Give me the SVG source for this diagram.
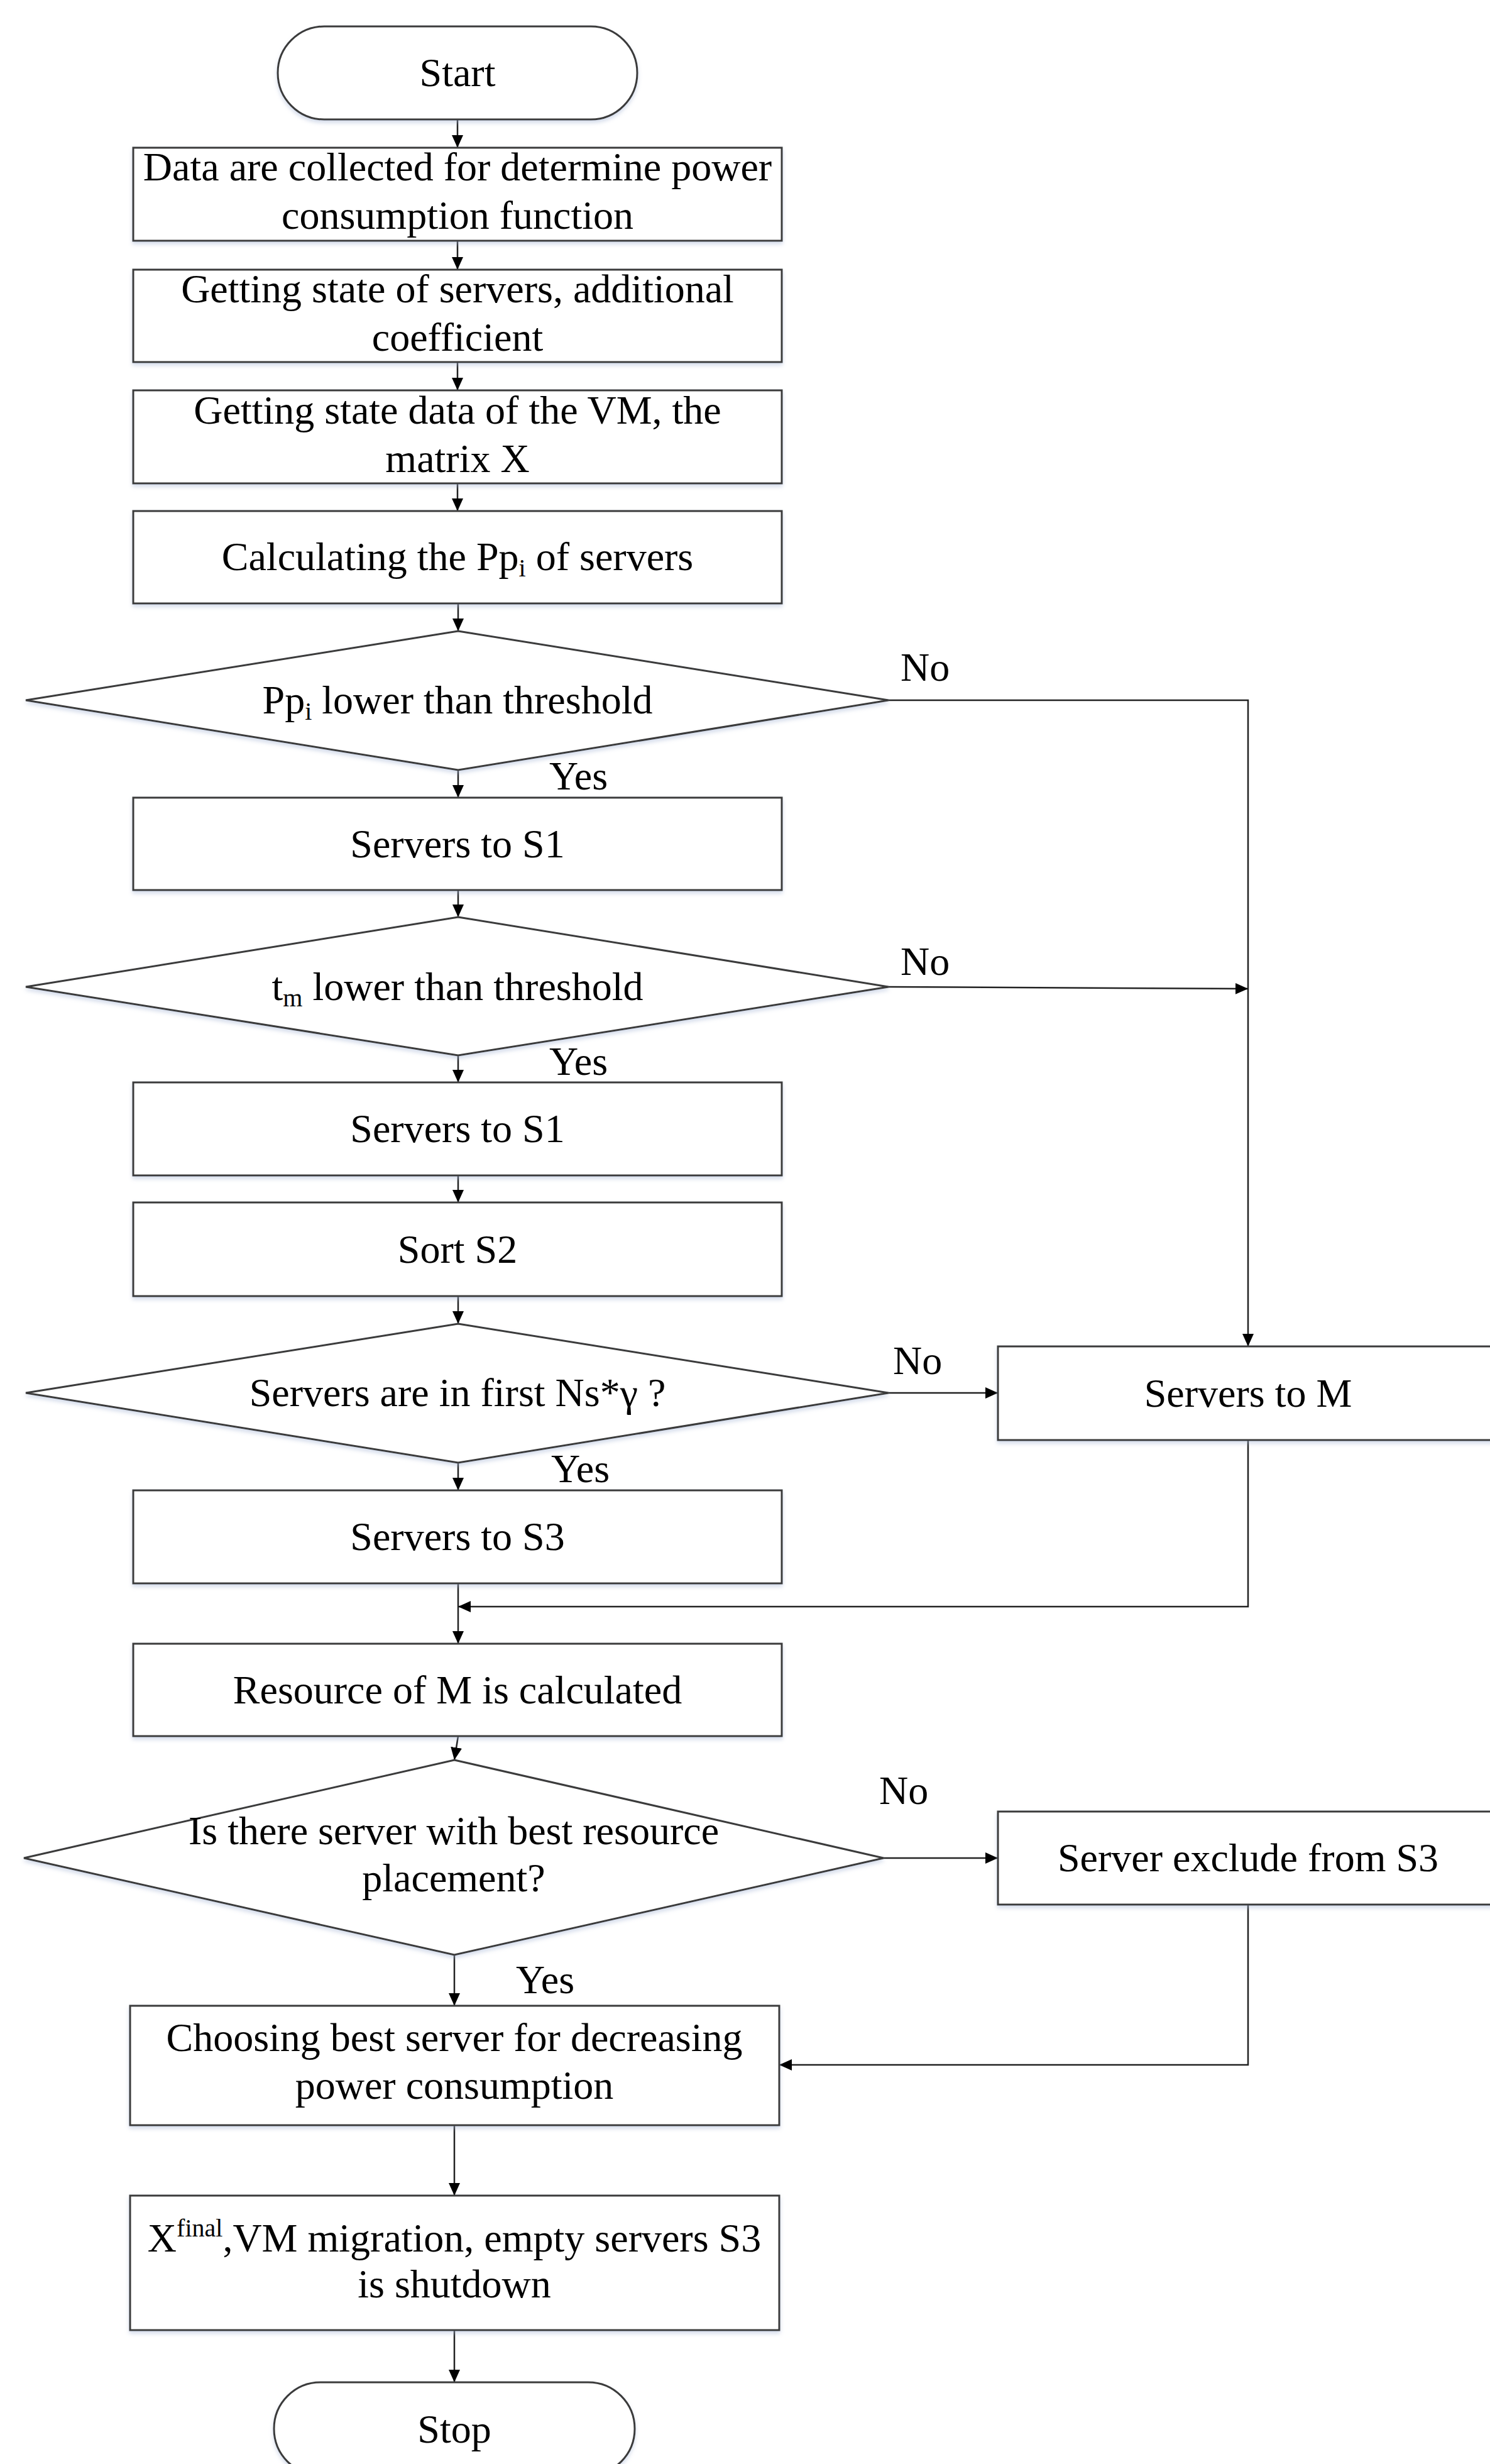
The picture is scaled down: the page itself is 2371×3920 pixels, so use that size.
<svg xmlns="http://www.w3.org/2000/svg" width="2371" height="3920" viewBox="0 0 2371 3920">
<defs>
<style>
.shape{fill:#ffffff;stroke:#3a3a3a;stroke-width:3}
.t{font-family:"Liberation Serif","Times New Roman",serif;font-size:64px;fill:#000;text-anchor:middle}
.lbl{font-family:"Liberation Serif","Times New Roman",serif;font-size:64px;fill:#000}
.c{fill:none;stroke:#222;stroke-width:2.5}
</style>
<filter id="sh" x="-5%" y="-5%" width="110%" height="120%">
<feDropShadow dx="0" dy="4" stdDeviation="3" flood-color="#9fb0d0" flood-opacity="0.45"/>
</filter>
<marker id="ar" markerUnits="userSpaceOnUse" markerWidth="20" markerHeight="20" viewBox="0 0 20 20" refX="20" refY="10" orient="auto">
<path d="M0,1 L20,10 L0,19 Z" fill="#000"/>
</marker>
</defs>
<rect width="2371" height="3920" fill="#ffffff"/>

<g id="connectors">
<line class="c" x1="728" y1="190" x2="728" y2="235" marker-end="url(#ar)"/>
<line class="c" x1="728" y1="383" x2="728" y2="429" marker-end="url(#ar)"/>
<line class="c" x1="728" y1="576" x2="728" y2="621" marker-end="url(#ar)"/>
<line class="c" x1="728" y1="769" x2="728" y2="813" marker-end="url(#ar)"/>
<line class="c" x1="729" y1="960" x2="729" y2="1004" marker-end="url(#ar)"/>
<line class="c" x1="729" y1="1225" x2="729" y2="1269" marker-end="url(#ar)"/>
<line class="c" x1="729" y1="1416" x2="729" y2="1459" marker-end="url(#ar)"/>
<line class="c" x1="729" y1="1679" x2="729" y2="1722" marker-end="url(#ar)"/>
<line class="c" x1="729" y1="1870" x2="729" y2="1913" marker-end="url(#ar)"/>
<line class="c" x1="729" y1="2062" x2="729" y2="2106" marker-end="url(#ar)"/>
<line class="c" x1="729" y1="2327" x2="729" y2="2371" marker-end="url(#ar)"/>
<line class="c" x1="729" y1="2519" x2="729" y2="2615" marker-end="url(#ar)"/>
<line class="c" x1="729" y1="2762" x2="723" y2="2800" marker-end="url(#ar)"/>
<line class="c" x1="723" y1="3110" x2="723" y2="3191" marker-end="url(#ar)"/>
<line class="c" x1="723" y1="3381" x2="723" y2="3493" marker-end="url(#ar)"/>
<line class="c" x1="723" y1="3707" x2="723" y2="3790" marker-end="url(#ar)"/>
<polyline class="c" points="1414,1114 1986,1114 1986,2142" marker-end="url(#ar)"/>
<line class="c" x1="1414" y1="1570" x2="1986" y2="1573" marker-end="url(#ar)"/>
<line class="c" x1="1414" y1="2216" x2="1588" y2="2216" marker-end="url(#ar)"/>
<polyline class="c" points="1986,2291 1986,2556 729,2556" marker-end="url(#ar)"/>
<line class="c" x1="1406" y1="2956" x2="1588" y2="2956" marker-end="url(#ar)"/>
<polyline class="c" points="1986,3030 1986,3285 1240,3285" marker-end="url(#ar)"/>
</g>

<g id="start">
<rect class="shape" filter="url(#sh)" x="442" y="42" width="572" height="148" rx="74" ry="74"/>
<text class="t" x="728" y="137">Start</text>
</g>

<g id="collect">
<rect class="shape" filter="url(#sh)" x="212" y="235" width="1032" height="148"/>
<text class="t" x="728" y="287">Data are collected for determine power</text>
<text class="t" x="728" y="364">consumption function</text>
</g>

<g id="state-servers">
<rect class="shape" filter="url(#sh)" x="212" y="429" width="1032" height="147"/>
<text class="t" x="728" y="481">Getting state of servers, additional</text>
<text class="t" x="728" y="558">coefficient</text>
</g>

<g id="state-vm">
<rect class="shape" filter="url(#sh)" x="212" y="621" width="1032" height="148"/>
<text class="t" x="728" y="674">Getting state data of the VM, the</text>
<text class="t" x="728" y="751">matrix X</text>
</g>

<g id="calc-pp">
<rect class="shape" filter="url(#sh)" x="212" y="813" width="1032" height="147"/>
<text class="t" x="728" y="907">Calculating the Pp<tspan font-size="40" dy="10">i</tspan><tspan dy="-10">  of servers</tspan></text>
</g>

<g id="decision-pp">
<polygon class="shape" filter="url(#sh)" points="729,1004 1414,1114 729,1225 41,1114"/>
<text class="t" x="728" y="1135">Pp<tspan font-size="40" dy="10">i</tspan><tspan dy="-10"> lower than threshold</tspan></text>
</g>

<g id="s1-a">
<rect class="shape" filter="url(#sh)" x="212" y="1269" width="1032" height="147"/>
<text class="t" x="728" y="1364">Servers to S1</text>
</g>

<g id="decision-tm">
<polygon class="shape" filter="url(#sh)" points="729,1459 1414,1570 729,1679 41,1570"/>
<text class="t" x="728" y="1591">t<tspan font-size="40" dy="10">m</tspan><tspan dy="-10"> lower than threshold</tspan></text>
</g>

<g id="s1-b">
<rect class="shape" filter="url(#sh)" x="212" y="1722" width="1032" height="148"/>
<text class="t" x="728" y="1817">Servers to S1</text>
</g>

<g id="sort-s2">
<rect class="shape" filter="url(#sh)" x="212" y="1913" width="1032" height="149"/>
<text class="t" x="728" y="2009">Sort S2</text>
</g>

<g id="decision-ns">
<polygon class="shape" filter="url(#sh)" points="729,2106 1414,2216 729,2327 41,2216"/>
<text class="t" x="728" y="2237">Servers are in first Ns*γ ?</text>
</g>

<g id="servers-m">
<rect class="shape" filter="url(#sh)" x="1588" y="2142" width="796" height="149"/>
<text class="t" x="1986" y="2238">Servers to M</text>
</g>

<g id="s3">
<rect class="shape" filter="url(#sh)" x="212" y="2371" width="1032" height="148"/>
<text class="t" x="728" y="2466">Servers to S3</text>
</g>

<g id="resource">
<rect class="shape" filter="url(#sh)" x="212" y="2615" width="1032" height="147"/>
<text class="t" x="728" y="2710">Resource of M is calculated</text>
</g>

<g id="decision-best">
<polygon class="shape" filter="url(#sh)" points="723,2800 1406,2956 723,3110 38,2956"/>
<text class="t" x="722" y="2934">Is there server with best resource</text>
<text class="t" x="722" y="3009">placement?</text>
</g>

<g id="exclude">
<rect class="shape" filter="url(#sh)" x="1588" y="2882" width="796" height="148"/>
<text class="t" x="1986" y="2977">Server exclude from S3</text>
</g>

<g id="choosing">
<rect class="shape" filter="url(#sh)" x="207" y="3191" width="1033" height="190"/>
<text class="t" x="723" y="3263">Choosing best server for decreasing</text>
<text class="t" x="723" y="3339">power consumption</text>
</g>

<g id="final">
<rect class="shape" filter="url(#sh)" x="207" y="3493" width="1033" height="214"/>
<text class="t" x="723" y="3582">X<tspan font-size="40" dy="-24">final</tspan><tspan dy="24">,VM migration, empty servers S3</tspan></text>
<text class="t" x="723" y="3655">is shutdown</text>
</g>

<g id="stop">
<rect class="shape" filter="url(#sh)" x="436" y="3790" width="574" height="148" rx="74" ry="74"/>
<text class="t" x="723" y="3886">Stop</text>
</g>

<g id="labels">
<text class="lbl" x="1433" y="1083">No</text>
<text class="lbl" x="874" y="1256">Yes</text>
<text class="lbl" x="1433" y="1551">No</text>
<text class="lbl" x="874" y="1710">Yes</text>
<text class="lbl" x="1421" y="2186">No</text>
<text class="lbl" x="877" y="2358">Yes</text>
<text class="lbl" x="1399" y="2870">No</text>
<text class="lbl" x="821" y="3171">Yes</text>
</g>
</svg>
